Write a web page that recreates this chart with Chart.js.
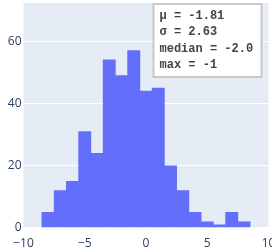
<!DOCTYPE html>
<html>
<head>
<meta charset="utf-8">
<script src="https://cdn.jsdelivr.net/npm/chart.js@4"></script>
<style>
  html, body { margin: 0; padding: 0; background: #fff; }
  #wrap { width: 272px; height: 249px; position: relative; }
</style>
</head>
<body>
<div id="wrap"><canvas id="chart" width="272" height="249"></canvas></div>
<script>
// histogram bins (centre of each unit-wide bin) and counts
const binCenters = [-8, -7, -6, -5, -4, -3, -2, -1, 0, 1, 2, 3, 4, 5, 6, 7, 8];
const counts = [5, 12, 15, 31, 24, 54, 49, 57, 44, 45, 20, 12, 5, 2, 1, 5, 2];
const xTicks = [-10, -5, 0, 5, 10];
const yTicks = [0, 20, 40, 60];
const statLines = ['μ = -1.81', 'σ = 2.63', 'median = -2.0', 'max = -1'];

const TICK_COLOR = '#2a3f5f';
const minus = (v) => String(v).replace('-', '\u2212');

// stats box in the top right corner of the plot
const statsBox = {
  id: 'statsBox',
  afterDraw(chart) {
    const { ctx, chartArea } = chart;
    const x = chartArea.right - 115, y = chartArea.top + 1;
    const w = 108, h = 73;
    ctx.save();
    ctx.fillStyle = '#fff';
    ctx.fillRect(x, y, w, h);
    ctx.strokeStyle = '#c8c8c8';
    ctx.lineWidth = 2;
    ctx.strokeRect(x, y, w, h);
    ctx.fillStyle = '#444';
    ctx.font = 'bold 12px "Liberation Mono", "DejaVu Sans Mono", monospace';
    ctx.textBaseline = 'middle';
    statLines.forEach((t, i) => ctx.fillText(t, x + 6, y + 12 + i * 16.3));
    ctx.restore();
  },
};

new Chart(document.getElementById('chart'), {
  type: 'bar',
  data: {
    datasets: [{
      data: binCenters.map((c, i) => ({ x: c, y: counts[i] })),
      backgroundColor: '#636efa',
      borderWidth: 0,
      barPercentage: 1,
      categoryPercentage: 1,
    }],
  },
  options: {
    responsive: false,
    animation: false,
    layout: { padding: { top: 3, right: 3.5, left: 0, bottom: 0 } },
    plugins: { legend: { display: false }, tooltip: { enabled: false } },
    scales: {
      x: {
        type: 'linear',
        min: -10,
        max: 10,
        offset: false,
        border: { display: false },
        grid: { display: false },
        afterBuildTicks: (s) => { s.ticks = xTicks.map((v) => ({ value: v })); },
        afterFit: (s) => { s.height = 21; s.paddingLeft = 0; s.paddingRight = 0; },
        ticks: {
          color: TICK_COLOR,
          padding: 0,
          maxRotation: 0,
          font: { family: '"Open Sans"', size: 12 },
          callback: (v) => minus(v),
        },
      },
      y: {
        min: 0,
        max: 72.3,
        border: { display: false },
        grid: {
          color: '#fff',
          lineWidth: (c) => (c.tick && c.tick.value === 0 ? 2 : 1),
          drawTicks: false,
        },
        afterBuildTicks: (s) => { s.ticks = yTicks.map((v) => ({ value: v })); },
        afterFit: (s) => { s.width = 23.5; s.paddingTop = 0; s.paddingBottom = 0; },
        ticks: {
          color: TICK_COLOR,
          padding: 2,
          font: { family: '"Open Sans"', size: 12 },
        },
      },
    },
  },
  plugins: [{
    id: 'plotBg',
    beforeDraw(chart) {
      const { ctx, chartArea: a } = chart;
      ctx.save();
      ctx.fillStyle = '#e5ecf6';
      ctx.fillRect(a.left, a.top, a.right - a.left, a.bottom - a.top);
      ctx.restore();
    },
  }, statsBox],
});
</script>
</body>
</html>
